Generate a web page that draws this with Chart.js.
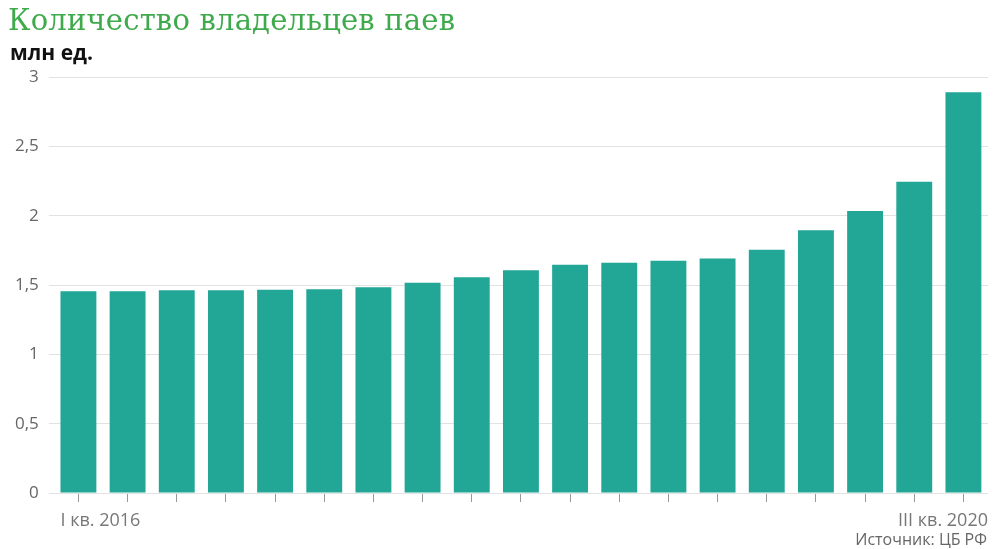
<!DOCTYPE html>
<html lang="ru">
<head>
    <meta charset="UTF-8">
    <title>Количество владельцев паев</title>
    <script src="https://cdn.jsdelivr.net/npm/chart.js"></script>
    <style>
        body {
            margin: 0;
            background: #fff;
            width: 994px;
            height: 549px;
            overflow: hidden;
            position: relative;
            font-family: "Open Sans", sans-serif;
        }
        #title {
            position: absolute;
            left: 8px;
            top: 3px;
            font-family: "DejaVu Serif", serif;
            font-size: 29px;
            letter-spacing: 0.2px;
            color: #3faa4c;
            white-space: nowrap;
        }
        #unit {
            position: absolute;
            left: 10px;
            top: 38px;
            font-size: 21px;
            font-weight: bold;
            color: #111;
        }
        #source {
            position: absolute;
            right: 7px;
            top: 528px;
            font-size: 16px;
            color: #666;
        }
        #chart {
            position: absolute;
            left: 0;
            top: 0;
        }
    </style>
</head>
<body>
    <canvas id="chart" width="994" height="549"></canvas>
    <div id="title">Количество владельцев паев</div>
    <div id="unit">млн ед.</div>
    <div id="source">Источник: ЦБ РФ</div>
    <script>
        const quarters = [
            'I кв. 2016', 'II кв. 2016', 'III кв. 2016', 'IV кв. 2016',
            'I кв. 2017', 'II кв. 2017', 'III кв. 2017', 'IV кв. 2017',
            'I кв. 2018', 'II кв. 2018', 'III кв. 2018', 'IV кв. 2018',
            'I кв. 2019', 'II кв. 2019', 'III кв. 2019', 'IV кв. 2019',
            'I кв. 2020', 'II кв. 2020', 'III кв. 2020'
        ];
        const owners = [1.455, 1.455, 1.463, 1.463, 1.466, 1.47, 1.484, 1.516, 1.555, 1.607,
                        1.646, 1.66, 1.675, 1.692, 1.755, 1.894, 2.034, 2.244, 2.89];
        const yTicks = [0, 0.5, 1, 1.5, 2, 2.5, 3];

        // only the first and last quarter are labelled, at the outer edges
        const endLabels = {
            id: 'endLabels',
            afterDraw(chart) {
                const ctx = chart.ctx;
                const bars = chart.getDatasetMeta(0).data;
                const first = bars[0];
                const y = chart.chartArea.bottom + 28;
                ctx.save();
                ctx.font = '18px "Open Sans", sans-serif';
                ctx.fillStyle = '#777';
                ctx.textBaseline = 'middle';
                ctx.textAlign = 'left';
                ctx.fillText(quarters[0], first.x - first.width / 2, y);
                ctx.textAlign = 'right';
                ctx.fillText(quarters[quarters.length - 1], chart.chartArea.right, y);
                ctx.restore();
            }
        };

        new Chart(document.getElementById('chart'), {
            type: 'bar',
            data: {
                labels: quarters,
                datasets: [{
                    data: owners,
                    backgroundColor: '#22a696',
                    barPercentage: 0.73,
                    categoryPercentage: 1
                }]
            },
            options: {
                responsive: false,
                animation: false,
                layout: { padding: { top: 77, left: 5, right: 6, bottom: 47 } },
                plugins: {
                    legend: { display: false },
                    tooltip: { enabled: false }
                },
                scales: {
                    x: {
                        grid: {
                            drawOnChartArea: false,
                            drawTicks: true,
                            tickLength: 9,
                            offset: false,
                            color: '#999'
                        },
                        border: { display: false },
                        ticks: { display: false }
                    },
                    y: {
                        min: 0,
                        max: 3,
                        afterBuildTicks(scale) {
                            scale.ticks = yTicks.map(v => ({ value: v }));
                        },
                        grid: { color: '#e2e2e2', tickLength: 5 },
                        border: { display: false },
                        ticks: {
                            padding: 10,
                            color: '#666',
                            font: { family: '"Open Sans", sans-serif', size: 17 },
                            callback: v => String(v).replace('.', ',')
                        }
                    }
                }
            },
            plugins: [endLabels]
        });
    </script>
</body>
</html>
